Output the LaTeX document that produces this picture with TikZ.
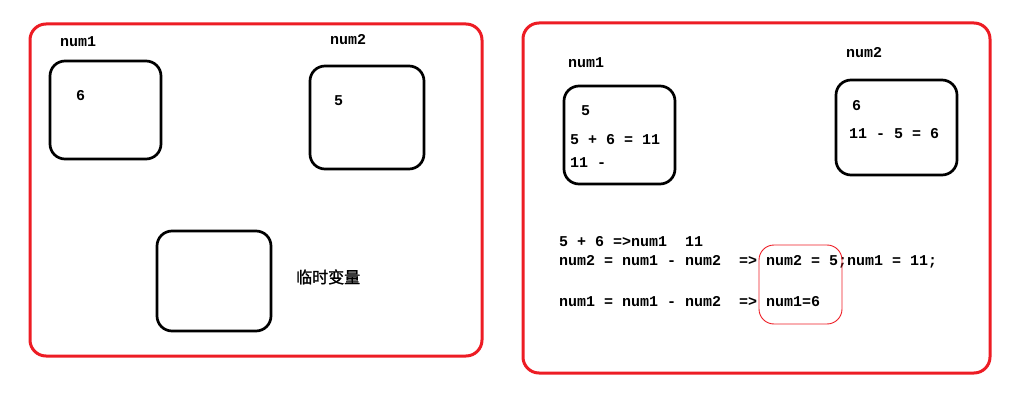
\documentclass[tikz,border=0pt]{standalone}
\usepackage{fontspec}
\newfontfamily\mono{Liberation Mono}
\newfontfamily\cjk[FakeBold=1.5]{Noto Sans CJK SC}
\definecolor{pred}{HTML}{ED1C24}
\begin{document}
\begin{tikzpicture}[x=1pt,y=-1pt,
  frame/.style={draw=pred,line width=3pt,rounded corners=16pt},
  cell/.style={draw=black,line width=2.7pt,rounded corners=15pt},
  hilite/.style={draw=pred,line width=0.9pt,rounded corners=15pt},
  txt/.style={anchor=west,inner sep=0pt,font=\mono\bfseries\fontsize{15}{15}\selectfont}]
\useasboundingbox (0,0) rectangle (1026,401);
% left panel
\draw[frame] (30,24) rectangle (482,356);
\node[txt] (l1) at (60,41.5) {num1};
\node[txt] (l2) at (330,40) {num2};
\draw[cell] (50,61) rectangle (161,159);
\draw[cell] (310,66) rectangle (424,169);
\draw[cell] (157,231) rectangle (271,331);
\node[txt] (v1) at (76,96) {6};
\node[txt] (v2) at (334,101) {5};
\node[anchor=west,inner sep=0pt,font=\cjk\fontsize{16}{16}\selectfont] (tmp) at (296,277) {临时变量};
% right panel
\draw[frame] (523,23) rectangle (990,373);
\node[txt] (r1) at (568,62.5) {num1};
\node[txt] (r2) at (846,52.5) {num2};
\draw[cell] (564,86) rectangle (675,184);
\draw[cell] (836,80) rectangle (957,175);
\node[txt] (a1) at (581,110.5) {5};
\node[txt] (a2) at (570,139.5) {5 + 6 = 11};
\node[txt] (a3) at (570,162.5) {11 -};
\node[txt] (b1) at (852,105.5) {6};
\node[txt] (b2) at (849,133.5) {11 - 5 = 6};
\node[txt] (s1) at (559,241.5) {5 + 6 =>num1~~11};
\node[txt] (s2) at (559,262) {num2 = num1 - num2~~=> num2 = 5;num1 = 11;};
\node[txt] (s3) at (559,302) {num1 = num1 - num2~~=> num1=6};
\draw[hilite] (759,245) rectangle (842,324);
\end{tikzpicture}
\end{document}
